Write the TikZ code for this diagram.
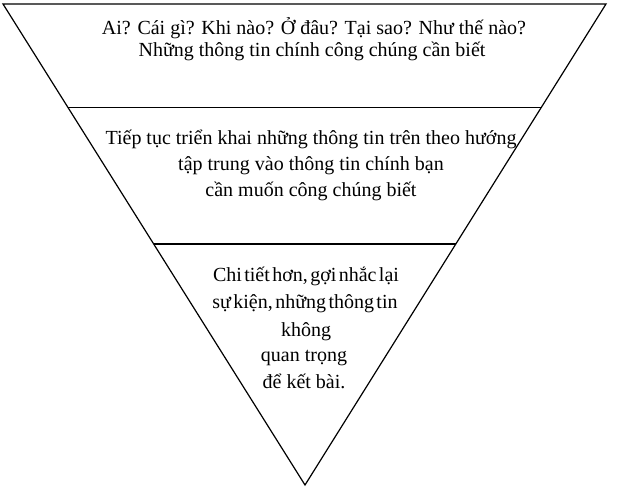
\documentclass[tikz,border=0pt]{standalone}
\usepackage{fontspec}
\setmainfont{Liberation Serif}
\usetikzlibrary{calc}
\begin{document}
\begin{tikzpicture}[x=1pt,y=-1pt,
  edge/.style={line width=1.2pt,line join=miter},
  txt/.style={anchor=base,inner sep=0pt,font=\fontsize{20}{23}\selectfont},
  tight/.style={anchor=base,inner sep=0pt,font={\fontsize{20}{23}\selectfont\spaceskip=0.12em plus 0.05em\relax}}]
\useasboundingbox (0,0) rectangle (620,489);
\coordinate (A) at (3,4);
\coordinate (B) at (606,4);
\coordinate (C) at (305,485);
\draw[edge] (A) -- (B) -- (C) -- cycle;
\coordinate (L1) at ($(A)!0.2152!(C)$);
\coordinate (R1) at ($(B)!0.2152!(C)$);
\coordinate (L2) at ($(A)!0.499!(C)$);
\coordinate (R2) at ($(B)!0.499!(C)$);
\draw[edge] (L1) -- (R1);
\draw[edge] (L2) -- (R2);
% box 1
\node[txt] (a1) at (314,35) {Ai? Cái gì? Khi nào? Ở đâu? Tại sao? Như thế nào?};
\node[txt] (a2) at (312,56.5) {Những thông tin chính công chúng cần biết};
% box 2
\node[txt] (b1) at (311,144.3) {Tiếp tục triển khai những thông tin trên theo hướng};
\node[txt] (b2) at (311,170.3) {tập trung vào thông tin chính bạn};
\node[txt] (b3) at (311,196) {cần muốn công chúng biết};
% box 3
\node[tight] (c1) at (306,281) {Chi tiết hơn, gợi nhắc lại};
\node[tight] (c2) at (305,308.3) {sự kiện, những thông tin};
\node[txt] (c3) at (306,336) {không};
\node[txt] (c4) at (304,361.7) {quan trọng};
\node[txt] (c5) at (304,388) {để kết bài.};
\end{tikzpicture}
\end{document}
